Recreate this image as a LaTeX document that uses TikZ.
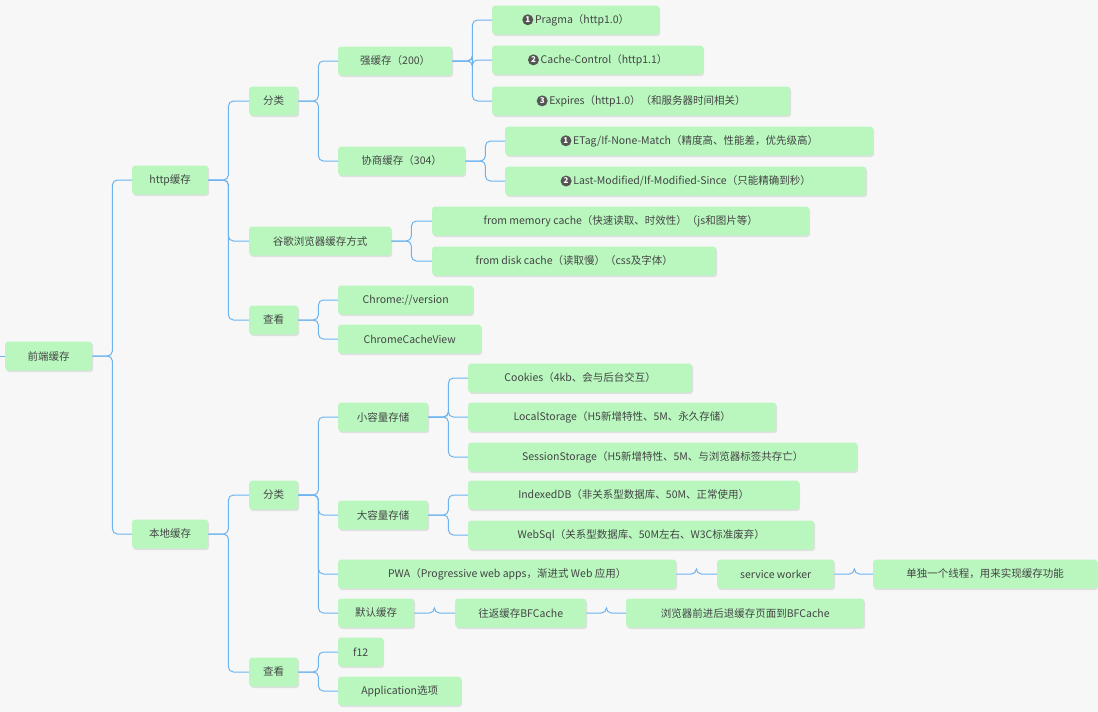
\documentclass[tikz,border=0pt]{standalone}
\usepackage{fontspec}
\setmainfont{Noto Sans CJK SC}
\usetikzlibrary{shadows}
\definecolor{bg}{HTML}{F7F7F7}
\definecolor{boxc}{HTML}{B9F7BF}
\definecolor{linec}{HTML}{6BB4F0}
\definecolor{txt}{HTML}{444444}
\definecolor{numc}{HTML}{555555}
\newcommand{\cnum}[1]{\tikz[baseline=-0.6ex]\node[circle,fill=numc,inner sep=0pt,minimum size=11pt,text=white,font=\bfseries\fontsize{8}{8}\selectfont]{#1};\,}
\tikzset{
 box/.style={anchor=west,fill=boxc,rounded corners=3pt,minimum height=29pt,text=txt,font=\fontsize{10.5}{12}\selectfont,inner xsep=9pt,
  drop shadow={shadow xshift=1pt,shadow yshift=-1.5pt,fill=black!18,opacity=0.6}},
 conn/.style={draw=linec,line width=1pt,rounded corners=5pt},
}
\newcommand{\bx}[5]{\node[box,minimum width=#4pt] (#1) at (#2,#3) {#5};}
\begin{document}
\begin{tikzpicture}[x=1pt,y=-1pt]
\fill[bg] (0,0) rectangle (1098,712);
\useasboundingbox (0,0) rectangle (1098,712);
\bx{root}{5}{356}{87}{前端缓存}
\bx{http}{132}{180}{76}{http缓存}
\bx{local}{132}{534}{76}{本地缓存}
\bx{fl1}{249}{101}{49}{分类}
\bx{gg}{249}{241}{142}{谷歌浏览器缓存方式}
\bx{ck1}{249}{320}{49}{查看}
\bx{qh}{338}{61}{114}{强缓存（200）}
\bx{xs}{338}{161}{127}{协商缓存（304）}
\bx{pr}{492}{20}{167}{\cnum{1}Pragma（http1.0）}
\bx{cc}{492}{60}{211}{\cnum{2}Cache-Control（http1.1）}
\bx{ex}{492}{101}{298}{\cnum{3}Expires（http1.0）（和服务器时间相关）}
\bx{et}{505}{141}{368}{\cnum{1}ETag/If-None-Match（精度高、性能差，优先级高）}
\bx{lm}{505}{181}{361}{\cnum{2}Last-Modified/If-Modified-Since（只能精确到秒）}
\bx{fm}{432}{221}{377}{from memory cache（快速读取、时效性）（js和图片等）}
\bx{fd}{432}{261}{284}{from disk cache（读取慢）（css及字体）}
\bx{cv}{338}{300}{135}{Chrome://version}
\bx{ccv}{338}{339}{143}{ChromeCacheView}
\bx{fl2}{249}{495}{49}{分类}
\bx{ck2}{249}{672}{49}{查看}
\bx{xr}{338}{417}{90}{小容量存储}
\bx{dr}{338}{515}{90}{大容量存储}
\bx{pwa}{338}{574}{338}{PWA（Progressive web apps，渐进式 Web 应用）}
\bx{mr}{338}{613}{76}{默认缓存}
\bx{co}{468}{378}{224}{Cookies（4kb、会与后台交互）}
\bx{ls}{468}{417}{308}{LocalStorage（H5新增特性、5M、永久存储）}
\bx{ss}{468}{457}{389}{SessionStorage（H5新增特性、5M、与浏览器标签共存亡）}
\bx{idb}{468}{495}{331}{IndexedDB（非关系型数据库、50M、正常使用）}
\bx{ws}{468}{535}{346}{WebSql（关系型数据库、50M左右、W3C标准废弃）}
\bx{sw}{717}{574}{117}{service worker}
\bx{dd}{873}{574}{224}{单独一个线程，用来实现缓存功能}
\bx{bf}{455}{613}{131}{往返缓存BFCache}
\bx{ll}{626}{613}{238}{浏览器前进后退缓存页面到BFCache}
\bx{f12}{338}{652}{45}{f12}
\bx{app}{338}{691}{123}{Application选项}
\coordinate (stub) at (0,356);
\begin{scope}[on background layer/.style={}]
\end{scope}
\draw[conn] (stub) -- (root.west);
\foreach \p/\c in {root/http,root/local,http/fl1,http/gg,http/ck1,fl1/qh,fl1/xs,qh/pr,qh/cc,qh/ex,xs/et,xs/lm,gg/fm,gg/fd,ck1/cv,ck1/ccv,local/fl2,local/ck2,fl2/xr,fl2/dr,fl2/pwa,fl2/mr,xr/co,xr/ls,xr/ss,dr/idb,dr/ws,pwa/sw,sw/dd,mr/bf,bf/ll,ck2/f12,ck2/app}
 \draw[conn] (\p.east) -- ++(20,0) |- (\c.west);
\end{tikzpicture}
\end{document}
